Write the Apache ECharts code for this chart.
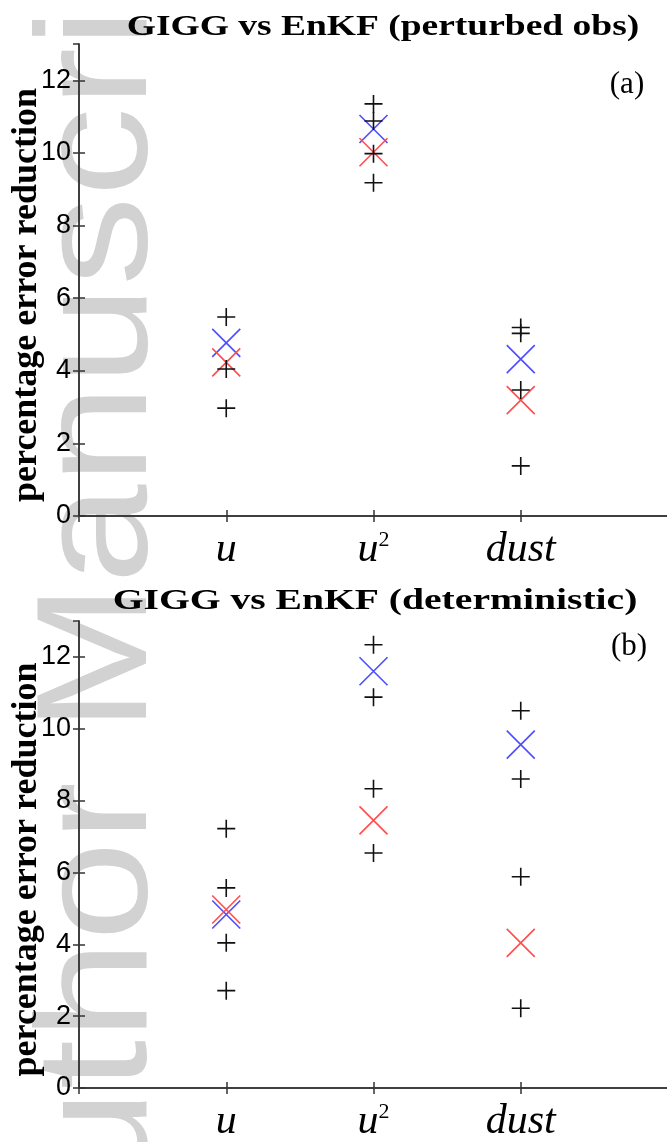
<!DOCTYPE html>
<html><head><meta charset="utf-8">
<script src="https://cdn.jsdelivr.net/npm/echarts@6/dist/echarts.min.js"></script>
<style>html,body{margin:0;padding:0;background:#fff}#c{width:667px;height:1142px}</style>
</head><body><div id="c"></div>
<script>
// ---- data ----
const categories = ['u', 'u2', 'dust'];
const catPos = [1, 2, 3];
const xTickLabels = { 1: '{i|u}', 2: '{i|u}{s|2}', 3: '{i|dust}' };
const yTickLabels = ['0', '2', '4', '6', '8', '10', '12'];
const panelTitles = ['GIGG vs EnKF (perturbed obs)', 'GIGG vs EnKF (deterministic)'];
const panelTags = ['(a)', '(b)'];
const yName = 'percentage error reduction';
const watermark = 'Author Manuscript';

// panel (a): individual runs (+) per category
const aPlusU = [5.48, 4.05, 2.97];
const aPlusU2 = [11.35, 10.88, 9.98, 9.18];
const aPlusDust = [5.19, 5.03, 3.47, 1.38];
const aBlue = [4.77, 10.66, 4.32];
const aRed = [4.23, 10.02, 3.19];
// panel (b)
const bPlusU = [7.22, 5.57, 4.04, 2.71];
const bPlusU2 = [12.34, 10.88, 8.33, 6.54];
const bPlusDust = [10.5, 8.6, 5.88, 2.22];
const bBlue = [4.83, 11.6, 9.56];
const bRed = [4.97, 7.45, 4.04];

// ---- build ----
const PLUS = 'path://M1,0L1,2M0,1L2,1';
const CROSS = 'path://M0,0L2,2M0,2L2,0';
const AX = '#333';

function plusData(lists) {
  const out = [];
  lists.forEach((arr, i) => arr.forEach(v => out.push([catPos[i], v])));
  return out;
}
function markData(arr) { return arr.map((v, i) => [catPos[i], v]); }

const grids = [
  { left: 79, top: 44, width: 589, height: 472, outerBoundsMode: 'none', containLabel: false },
  { left: 79, top: 621, width: 589, height: 467, outerBoundsMode: 'none', containLabel: false }
];

const xAxes = [], yAxes = [];
grids.forEach((g, gi) => {
  xAxes.push({
    gridIndex: gi, type: 'value', min: 0, max: 4, interval: 1, position: 'bottom',
    axisLine: { lineStyle: { color: AX, width: 1.5 } },
    axisTick: { inside: true, length: 6, lineStyle: { color: AX, width: 1.5 } },
    splitLine: { show: false },
    axisLabel: {
      margin: 13,
      formatter: v => xTickLabels[v] || '',
      rich: {
        i: { fontFamily: 'Liberation Serif', fontStyle: 'italic', fontSize: 42, color: '#000' },
        s: { fontFamily: 'Liberation Serif', fontSize: 22, color: '#000', verticalAlign: 'top' }
      }
    }
  });
  xAxes.push({
    gridIndex: gi, type: 'value', min: 0, max: 4, interval: 1, position: 'top',
    axisLine: { lineStyle: { color: AX, width: 1.5 } },
    axisTick: { inside: true, length: 6, lineStyle: { color: AX, width: 1.5 } },
    axisLabel: { show: false }, splitLine: { show: false }
  });
  yAxes.push({
    gridIndex: gi, type: 'value', min: 0, max: 13, interval: 2, position: 'left',
    name: yName, nameLocation: 'middle', nameRotate: 90, nameGap: 34, nameMoveOverlap: false,
    nameTextStyle: { fontFamily: 'Liberation Serif', fontWeight: 'bold', fontSize: 36, color: '#000', padding: [0, 30, 0, 0] },
    axisLine: { lineStyle: { color: AX, width: 1.5 } },
    axisTick: { inside: true, length: 6, lineStyle: { color: AX, width: 1.5 } },
    splitLine: { show: false },
    axisLabel: {
      margin: 8, showMaxLabel: false,
      fontFamily: 'Liberation Sans', fontSize: 27, color: '#000',
      formatter: v => (v % 2 === 0 && v <= 12) ? yTickLabels[v / 2] : ''
    }
  });
  yAxes.push({
    gridIndex: gi, type: 'value', min: 0, max: 13, interval: 2, position: 'right',
    axisLine: { lineStyle: { color: AX, width: 1.5 } },
    axisTick: { inside: true, length: 6, lineStyle: { color: AX, width: 1.5 } },
    axisLabel: { show: false }, splitLine: { show: false }
  });
});

function scatter(gi, data, sym, size, color, z) {
  return {
    type: 'scatter', xAxisIndex: gi * 2, yAxisIndex: gi * 2, data: data,
    symbol: sym, symbolSize: size, z: z, silent: true,
    itemStyle: { color: 'none', borderColor: color, borderWidth: 1.6, opacity: 1 }
  };
}

const series = [
  scatter(0, markData(aBlue), CROSS, 28, '#4d4dff', 2),
  scatter(0, markData(aRed), CROSS, 28, '#ff4d4d', 3),
  scatter(0, plusData([aPlusU, aPlusU2, aPlusDust]), PLUS, 18, '#111', 4),
  scatter(1, markData(bBlue), CROSS, 28, '#4d4dff', 2),
  scatter(1, markData(bRed), CROSS, 28, '#ff4d4d', 3),
  scatter(1, plusData([bPlusU, bPlusU2, bPlusDust]), PLUS, 18, '#111', 4)
];

const titleFont = { fontFamily: 'Liberation Serif', fontWeight: 'bold', fontSize: 30, fill: '#000', textAlign: 'center', textVerticalAlign: 'middle' };
const graphic = [
  { type: 'text', z: -10, x: 181, y: 1308, rotation: Math.PI / 2, scaleX: 1.13, silent: true,
    style: { text: watermark, fontFamily: 'Liberation Sans', fontSize: 158, fill: '#d2d2d2', textAlign: 'left', textVerticalAlign: 'bottom' } },
  { type: 'text', x: 383, y: 27, scaleX: 1.25, style: Object.assign({ text: panelTitles[0] }, titleFont) },
  { type: 'text', x: 375, y: 601, scaleX: 1.32, style: Object.assign({ text: panelTitles[1] }, titleFont) },
  { type: 'text', x: 627, y: 85, style: { text: panelTags[0], fontFamily: 'Liberation Serif', fontSize: 31, fill: '#000', textAlign: 'center', textVerticalAlign: 'middle' } },
  { type: 'text', x: 629, y: 647, style: { text: panelTags[1], fontFamily: 'Liberation Serif', fontSize: 31, fill: '#000', textAlign: 'center', textVerticalAlign: 'middle' } }
];

const chart = echarts.init(document.getElementById('c'), null, { renderer: 'canvas' });
chart.setOption({
  animation: false,
  backgroundColor: '#fff',
  grid: grids,
  xAxis: xAxes,
  yAxis: yAxes,
  series: series,
  graphic: graphic
});
</script>
</body></html>
